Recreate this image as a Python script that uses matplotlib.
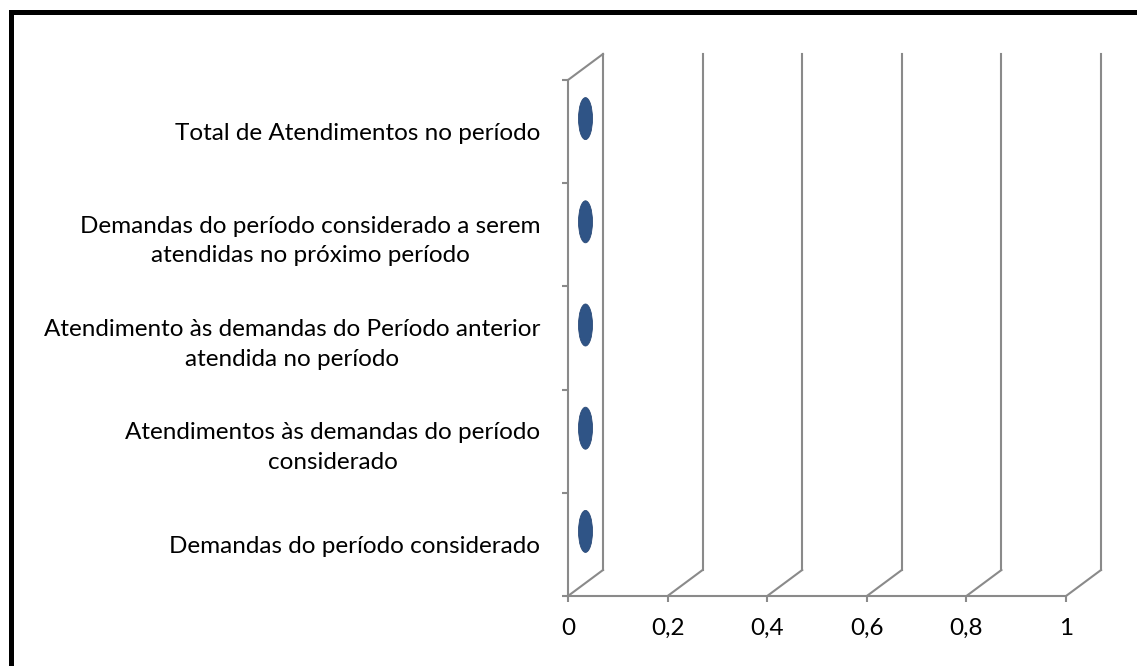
import matplotlib
matplotlib.use('Agg')
import matplotlib.pyplot as plt
from matplotlib.patches import Ellipse

plt.rcParams['font.family'] = ['Lato', 'DejaVu Sans']

# categorias (de baixo para cima, como no gráfico)
categorias = [
    'Demandas do período considerado',
    'Atendimentos às demandas do período\nconsiderado',
    'Atendimento às demandas do Período anterior\natendida no período',
    'Demandas do período considerado a serem\natendidas no próximo período',
    'Total de Atendimentos no período',
]
valores = [0, 0, 0, 0, 0]
x_ticks = [0, 0.2, 0.4, 0.6, 0.8, 1]
x_labels = ['0', '0,2', '0,4', '0,6', '0,8', '1']

W, H = 1137, 666
fig = plt.figure(figsize=(W / 100, H / 100), dpi=100)
fig.patch.set_facecolor('white')

# moldura preta
frame = fig.add_axes([0, 0, 1, 1])
frame.set_xlim(0, W)
frame.set_ylim(H, 0)
frame.axis('off')
frame.plot([10.5, 10.5, W + 5], [H + 5, 12, 12], color='black', lw=3.6,
           solid_capstyle='projecting', solid_joinstyle='miter')

# eixos principais (x: 568..1066 px, y: 80..596 px)
ax = fig.add_axes([568 / W, (H - 596) / H, 498 / W, 516 / H])
ax.set_xlim(0, 1)
ax.set_ylim(0, len(categorias))
ax.patch.set_alpha(0)

grey = '#8a8a8a'
dx, dy = 35 / 498, 26 / (516 / 5)
n = len(categorias)

for s in ['top', 'right']:
    ax.spines[s].set_visible(False)
for s in ['left', 'bottom']:
    ax.spines[s].set_color(grey)
    ax.spines[s].set_linewidth(1.5)

# parede do fundo e diagonais
for xv in x_ticks:
    ax.plot([xv + dx, xv + dx], [dy, n + dy], color=grey, lw=1.5, clip_on=False)
    ax.plot([xv, xv + dx], [0, dy], color=grey, lw=1.5, clip_on=False)
ax.plot([0, dx], [n, n + dy], color=grey, lw=1.5, clip_on=False)

# barras (valor zero -> só a tampa do cilindro)
for i, v in enumerate(valores):
    ax.add_patch(Ellipse((v + dx / 2, i + 0.5 + dy / 2), 14 / 498, 42 / (516 / 5),
                         facecolor='#2f5486', edgecolor='#2a4a78', lw=0.6,
                         clip_on=False, zorder=3))

ax.set_xticks(x_ticks)
ax.set_xticklabels(x_labels, fontsize=17.5)
ax.set_yticks(range(n + 1))
ax.set_yticklabels([])
ax.set_yticks([i + 0.5 for i in range(n)], minor=True)
ax.set_yticklabels(categorias, minor=True, fontsize=17.5, linespacing=1.5)
ax.tick_params(axis='both', which='major', color=grey, width=1.5, length=4.5)
ax.tick_params(axis='x', pad=11)
ax.tick_params(axis='y', which='minor', length=0, pad=20)
for t in ax.get_yticklabels(minor=True):
    t.set_multialignment('center')

fig.savefig('out.png', dpi=100)
